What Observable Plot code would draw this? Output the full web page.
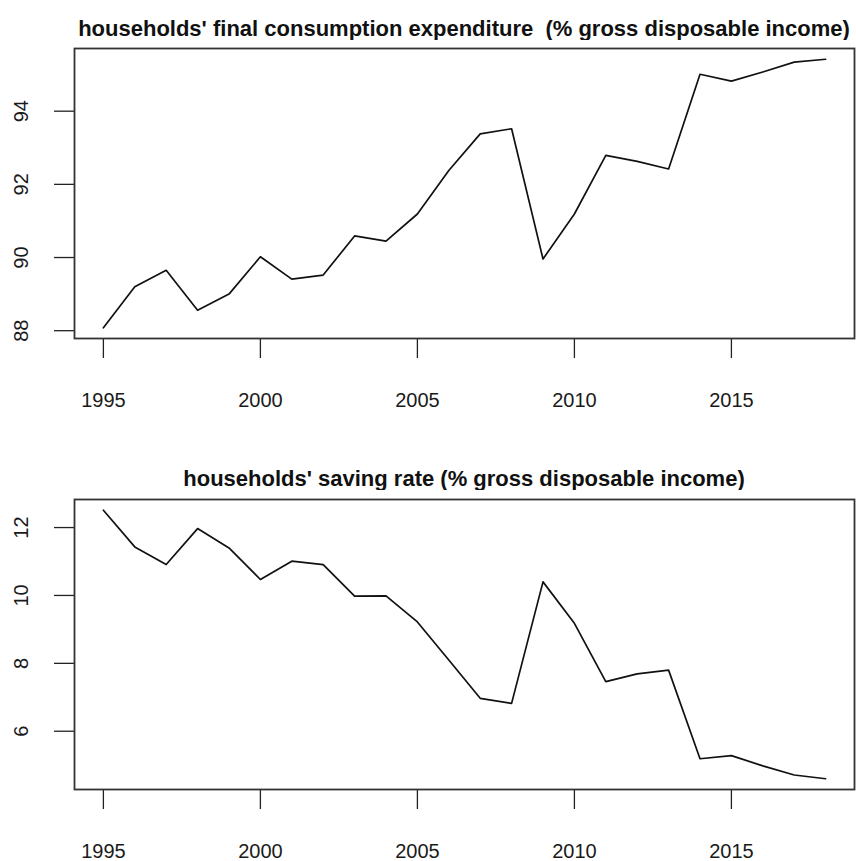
<!DOCTYPE html>
<html>
<head>
<meta charset="utf-8">
<script src="https://cdn.jsdelivr.net/npm/d3@7"></script>
<script src="https://cdn.jsdelivr.net/npm/@observablehq/plot@0.6"></script>
<style>
  html, body { margin: 0; padding: 0; background: #fff; }
  #wrap { position: relative; width: 856px; height: 861px; overflow: hidden; font-family: "Liberation Sans", Arial, Helvetica, sans-serif; }
  .title { position: absolute; left: 74px; width: 780px; text-align: center; font-weight: bold; font-size: 22px; color: #111; white-space: pre; line-height: 1; }
  .panel { position: absolute; left: 0; }
</style>
</head>
<body>
<div id="wrap">
  <div class="title" id="t1"></div>
  <div class="panel" id="p1"></div>
  <div class="title" id="t2"></div>
  <div class="panel" id="p2"></div>
</div>
<script>
const years = [1995, 1996, 1997, 1998, 1999, 2000, 2001, 2002, 2003, 2004, 2005, 2006,
               2007, 2008, 2009, 2010, 2011, 2012, 2013, 2014, 2015, 2016, 2017, 2018];
const consumption = [88.08, 89.20, 89.65, 88.56, 89.00, 90.02, 89.41, 89.52, 90.59, 90.45, 91.19, 92.38,
                     93.38, 93.52, 89.96, 91.19, 92.79, 92.63, 92.42, 95.01, 94.82, 95.07, 95.34, 95.42];
const saving = [12.51, 11.43, 10.91, 11.97, 11.40, 10.47, 11.01, 10.91, 9.98, 9.99, 9.22, 8.10,
                6.97, 6.82, 10.40, 9.18, 7.46, 7.69, 7.80, 5.19, 5.28, 4.98, 4.71, 4.60];
const xTicks = [1995, 2000, 2005, 2010, 2015];
const yTicksTop = [88, 90, 92, 94];
const yTicksBottom = [6, 8, 10, 12];
const titleTop = "households' final consumption expenditure  (% gross disposable income)";
const titleBottom = "households' saving rate (% gross disposable income)";

function pad(ext) { const r = ext[1] - ext[0]; return [ext[0] - 0.04 * r, ext[1] + 0.04 * r]; }

function panel(values, yTicks, marginTop, height, marginBottom) {
  const data = years.map((y, i) => ({year: y, value: values[i]}));
  return Plot.plot({
    width: 856,
    height,
    marginLeft: 74,
    marginRight: 2,
    marginTop,
    marginBottom,
    style: {fontFamily: '"Liberation Sans", Arial, Helvetica, sans-serif', fontSize: "20px", color: "#111", background: "#fff", overflow: "visible"},
    x: {type: "linear", domain: pad(d3.extent(years))},
    y: {type: "linear", domain: pad(d3.extent(values))},
    marks: [
      Plot.axisX({ticks: xTicks, tickSize: 20, tickPadding: 34, tickFormat: d => String(d), label: null, fontSize: 20, stroke: "#222", strokeWidth: 1.3, fill: "#1a1a1a"}),
      Plot.axisY({ticks: yTicks, tickSize: 20, tickFormat: () => "", label: null, stroke: "#222", strokeWidth: 1.3}),
      Plot.text(yTicks, {y: d => d, text: d => String(d), frameAnchor: "left", dx: -53, rotate: -90, textAnchor: "middle", lineAnchor: "middle", fontSize: 20, fill: "#1a1a1a"}),
      Plot.line(data, {x: "year", y: "value", stroke: "#111", strokeWidth: 1.7}),
      Plot.frame({stroke: "#333", strokeWidth: 1.8})
    ]
  });
}

// top panel: box 48..338
const p1 = document.getElementById("p1");
p1.style.top = "40px";
p1.appendChild(panel(consumption, yTicksTop, 8, 380, 82));
// bottom panel: box 499..789
const p2 = document.getElementById("p2");
p2.style.top = "490px";
p2.appendChild(panel(saving, yTicksBottom, 9, 371, 72));

const t1 = document.getElementById("t1");
t1.textContent = titleTop;
t1.style.top = "18px";
const t2 = document.getElementById("t2");
t2.textContent = titleBottom;
t2.style.top = "468px";
</script>
</body>
</html>
